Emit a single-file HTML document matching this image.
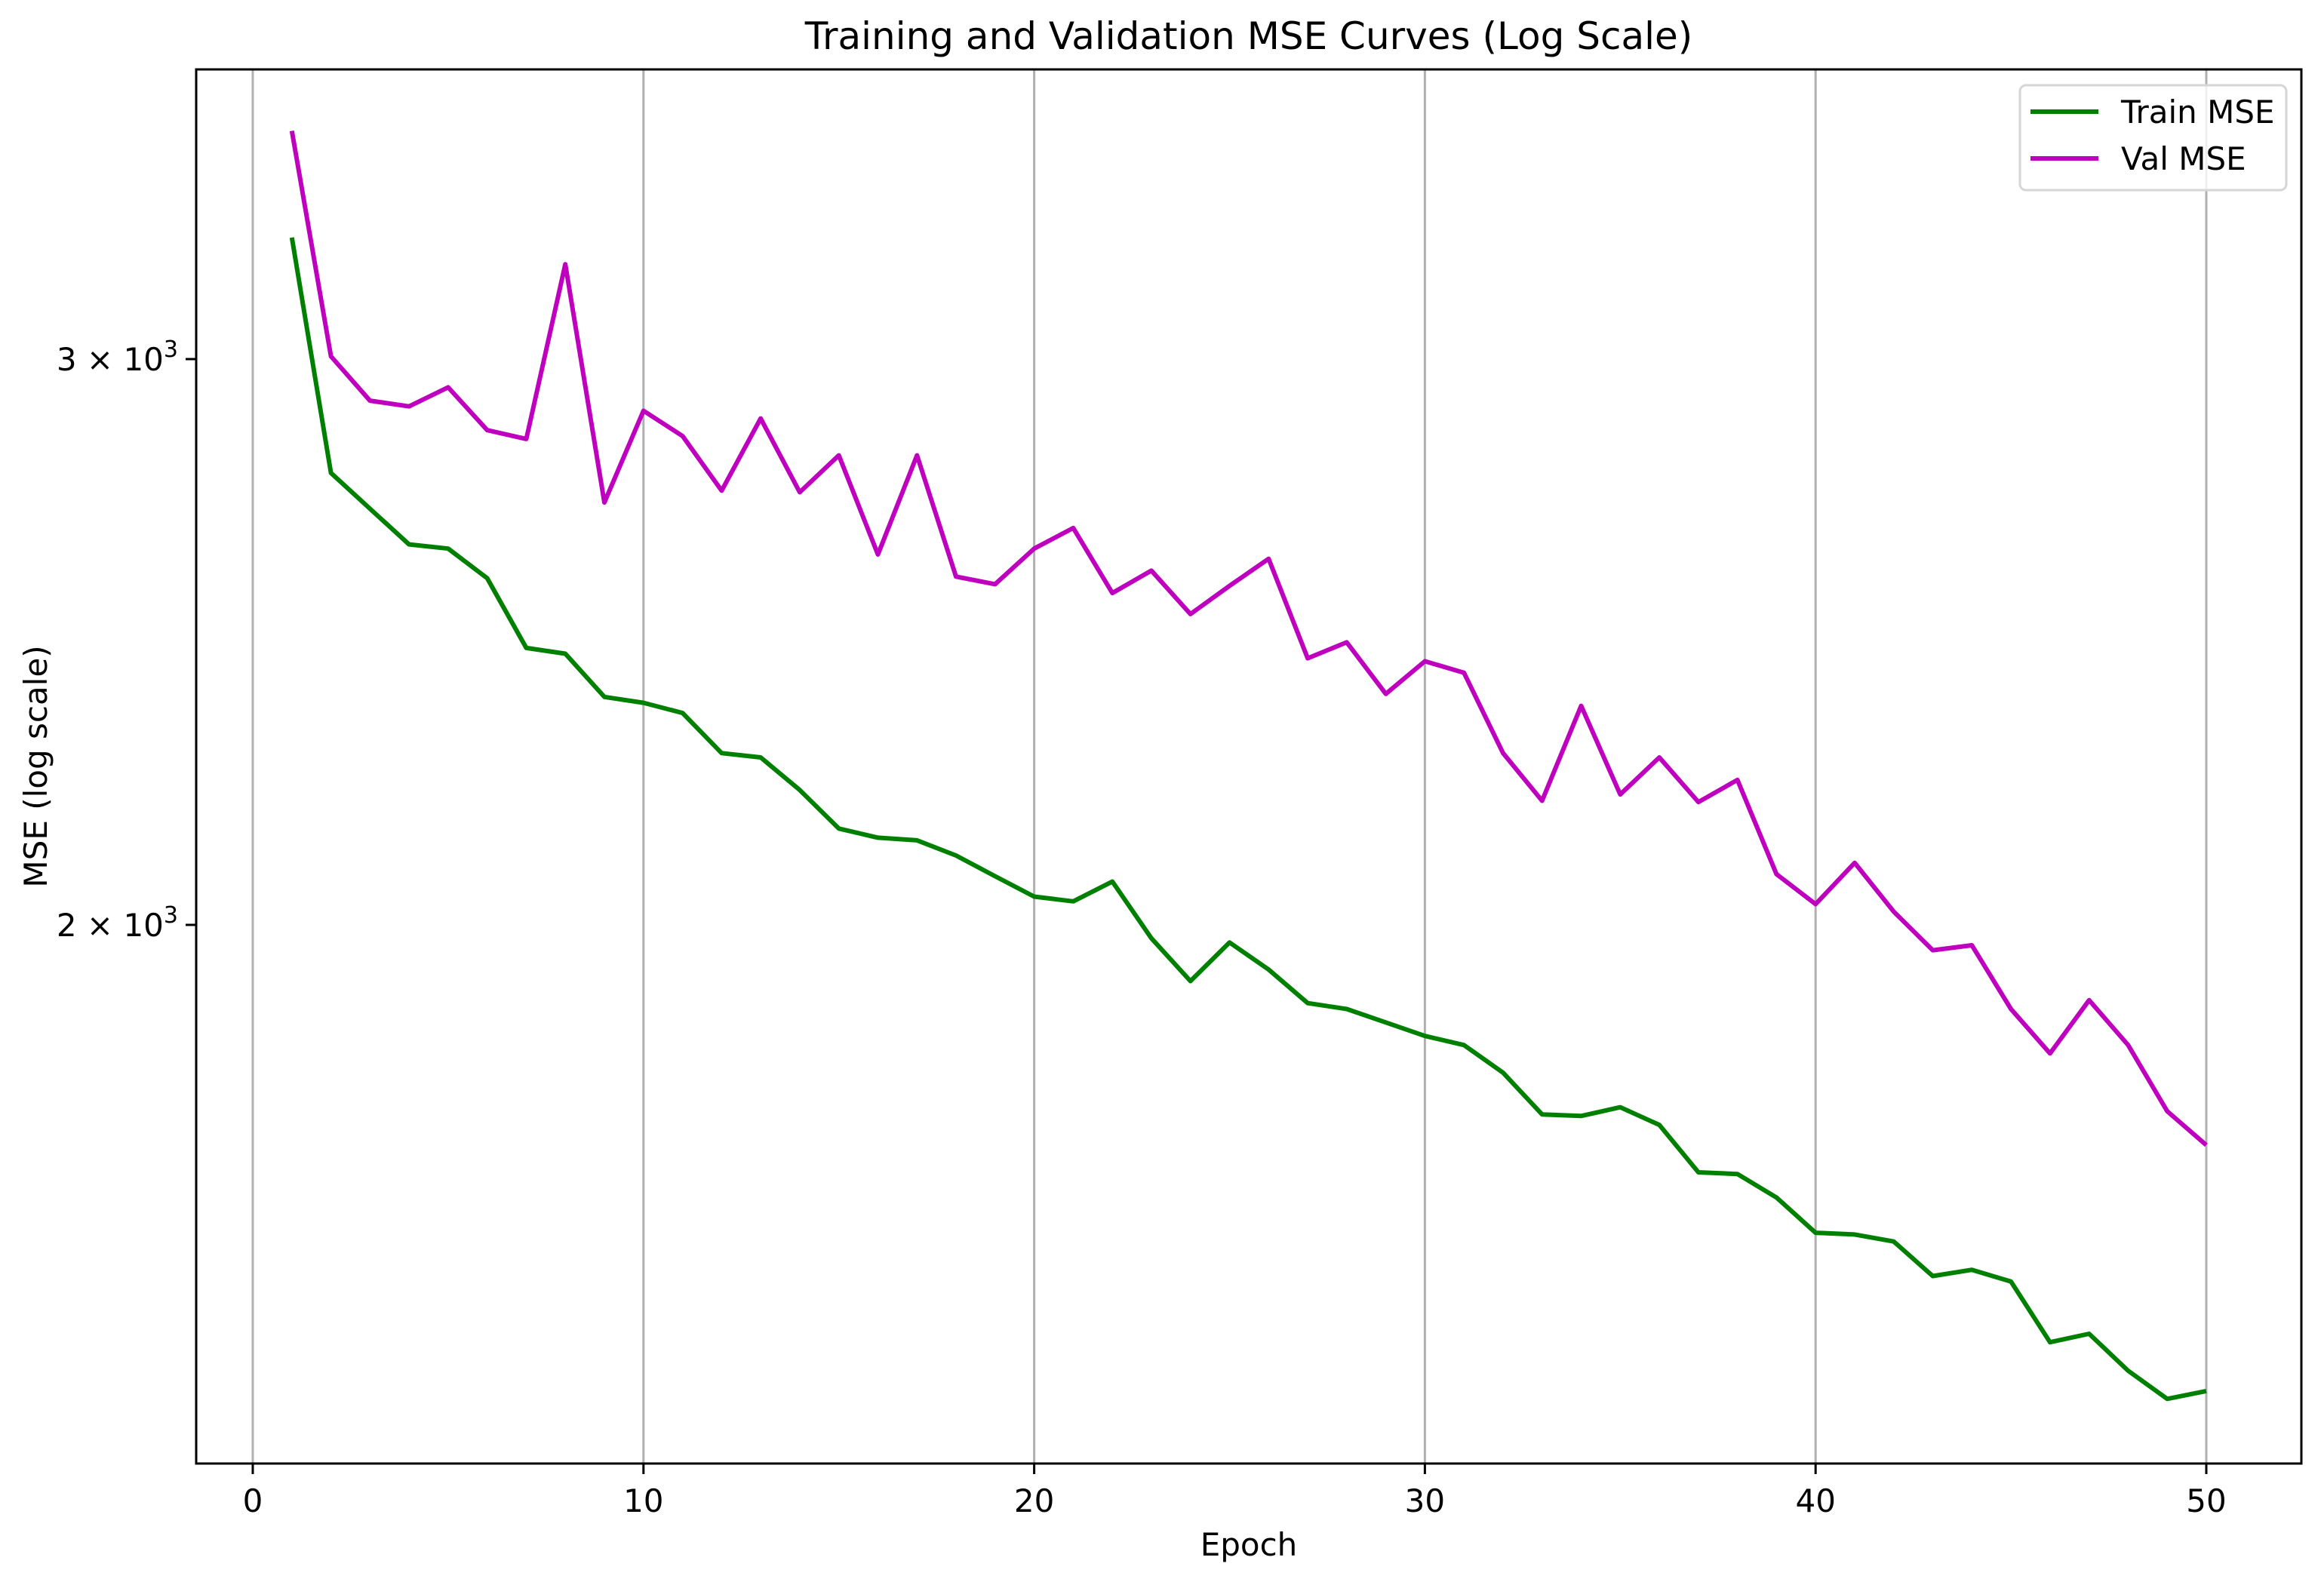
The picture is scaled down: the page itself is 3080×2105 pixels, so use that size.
<!DOCTYPE html>
<html><head><meta charset="utf-8"><style>
body{margin:0;background:#fff}
svg text{font-family:"DejaVu Sans","Liberation Sans",sans-serif;fill:#000}
</style></head><body>
<svg id="chart" width="3080" height="2100" viewBox="0 0 3080 2100" xmlns="http://www.w3.org/2000/svg">
<rect width="3080" height="2100" fill="#fff"/>
<g id="grid"></g>
<g id="series"></g>
<rect x="260" y="92" width="2790" height="1848" fill="none" stroke="#000" stroke-width="3"/>
<g id="ticks"></g>
<text x="1655" y="65" font-size="50" text-anchor="middle">Training and Validation MSE Curves (Log Scale)</text>
<text x="1655" y="2062" font-size="42" text-anchor="middle">Epoch</text>
<text transform="translate(62,1016) rotate(-90)" font-size="42" text-anchor="middle">MSE (log scale)</text>
<g>
<rect x="2677" y="113" width="353" height="139" rx="8" fill="#fff" fill-opacity="0.8" stroke="#d6d6d6" stroke-width="3"/>
<line x1="2691" y1="148" x2="2781" y2="148" stroke="#008000" stroke-width="6"/>
<text x="2811" y="163" font-size="42">Train MSE</text>
<line x1="2691" y1="210" x2="2781" y2="210" stroke="#bf00bf" stroke-width="6"/>
<text x="2811" y="225" font-size="42">Val MSE</text>
</g>
</svg>
<script>
const epochs = Array.from({length:50},(_,i)=>i+1);
const trainMSE = [3273,2765,2695,2627,2619,2564,2439,2429,2355,2345,2328,2262,2255,2203,2143,2129,2125,2102,2071,2041,2034,2063,1981,1921,1975,1937,1891,1883,1865,1847,1835,1799,1746,1744,1755,1733,1675,1673,1645,1604,1602,1594,1555,1562,1549,1483,1492,1453,1424,1432];
const valMSE = [3533,3006,2912,2900,2940,2851,2833,3211,2707,2891,2839,2730,2875,2727,2800,2608,2800,2567,2553,2619,2658,2537,2578,2499,2550,2600,2421,2449,2360,2416,2396,2262,2186,2340,2196,2255,2184,2219,2074,2030,2091,2019,1964,1971,1883,1824,1895,1835,1750,1708];
const xTicks = [0,10,20,30,40,50];
const yTicks = [3000,2000];
const yTickLabels = ["3","2"];

const NS="http://www.w3.org/2000/svg";
const X=v=>335+(v-0)*(2924-335)/50;
const Y=v=>476+(Math.log(3000)-Math.log(v))*(1226-476)/Math.log(1.5);
function mk(t,a,p){const e=document.createElementNS(NS,t);for(const k in a)e.setAttribute(k,a[k]);p.appendChild(e);return e;}
const grid=document.getElementById('grid'),ticks=document.getElementById('ticks'),series=document.getElementById('series');
xTicks.forEach(t=>{
  const g=mk('line',{x1:X(t),x2:X(t),y1:92,y2:1940,stroke:'#b0b0b0','stroke-width':3},grid);
  
  
  const tk=mk('line',{x1:X(t),x2:X(t),y1:1940,y2:1954,stroke:'#000','stroke-width':3},ticks);
  
  
  const tx=mk('text',{x:X(t),y:2004,'font-size':42,'text-anchor':'middle'},ticks);
  tx.textContent=t;
  
  
});
yTicks.forEach((t,i)=>{
  const tk=mk('line',{x1:246,x2:260,y1:Y(t),y2:Y(t),stroke:'#000','stroke-width':3},ticks);
  
  
  const tx=mk('text',{x:236,y:Y(t)+15,'font-size':42,'text-anchor':'end'},ticks);
  tx.innerHTML=yTickLabels[i]+' × 10<tspan dy="-18" font-size="30">3</tspan>';
  
  
});
function line(data,color,name){
  const d=data.map((v,i)=>(i?'L':'M')+X(epochs[i]).toFixed(1)+' '+Y(v).toFixed(1)).join(' ');
  const p=mk('path',{d:d,fill:'none',stroke:color,'stroke-width':6,'stroke-linejoin':'round'},series);
  
  
}
line(trainMSE,'#008000','train-mse-line');
line(valMSE,'#bf00bf','val-mse-line');
</script>
</body></html>
